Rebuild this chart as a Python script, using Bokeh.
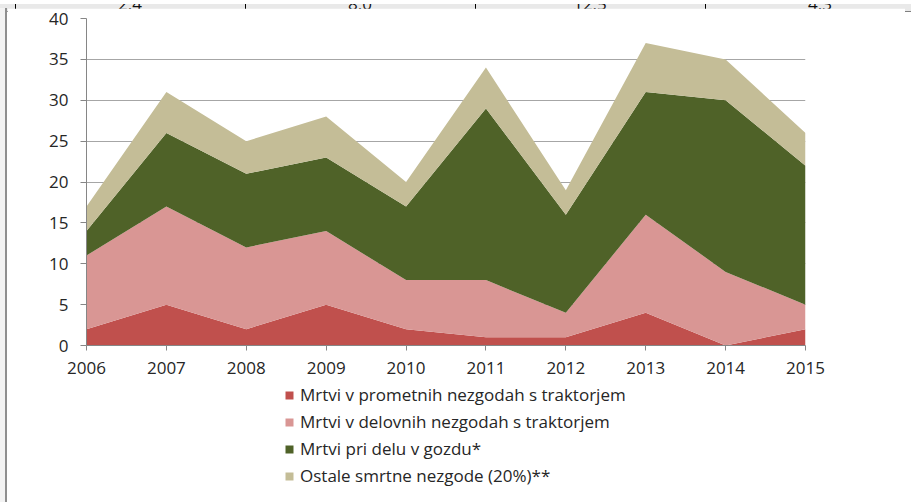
from bokeh.plotting import figure
from bokeh.models import ColumnDataSource, Range1d, FixedTicker, Legend, LegendItem, Div
from bokeh.layouts import column, row
from bokeh.embed import file_html
from bokeh.resources import INLINE

years = [2006, 2007, 2008, 2009, 2010, 2011, 2012, 2013, 2014, 2015]
prometne = [2, 5, 2, 5, 2, 1, 1, 4, 0, 2]
delovne = [9, 12, 10, 9, 6, 7, 3, 12, 9, 3]
gozd = [3, 9, 9, 9, 9, 21, 12, 15, 21, 17]
ostale = [3, 5, 4, 5, 3, 5, 3, 6, 5, 4]

series_names = [
    "Mrtvi v prometnih nezgodah s traktorjem",
    "Mrtvi v delovnih nezgodah s traktorjem",
    "Mrtvi pri delu v gozdu*",
    "Ostale smrtne nezgode (20%)**",
]
colors = ["#C0504D", "#D99694", "#4F6228", "#C4BD97"]
y_ticks = [0, 5, 10, 15, 20, 25, 30, 35, 40]

# partially visible spreadsheet row above the chart
header_values = ["2.4", "8.0", "12.5", "4.3"]

FONT = "Open Sans"
TXT = "#262626"
AX = "#868686"

source = ColumnDataSource(dict(year=years, s1=prometne, s2=delovne, s3=gozd, s4=ostale))
stack_cols = ["s1", "s2", "s3", "s4"]

# ---- spreadsheet strip (context above the chart) ----
cells = []
cell_w = 230
for i, v in enumerate(header_values):
    left = 15 + i * cell_w
    cells.append(f'<span style="position:absolute;left:{left}px;top:0;width:{cell_w}px;height:8px;'
                 f'border-left:1px solid #000;box-sizing:border-box;"></span>')
    cells.append(f'<span style="position:absolute;left:{left}px;width:{cell_w}px;top:-9px;'
                 f'line-height:17px;text-align:center;font-family:\'Open Sans\';font-size:17px;color:#111;">{v}</span>')
strip_html = ('<div style="position:relative;width:911px;height:8px;background:#E9E9E9;'
              'border-bottom:1px solid #7F7F7F;box-sizing:border-box;overflow:hidden;">'
              + "".join(cells) + '</div>')
strip = Div(text=strip_html, width=911, height=8, margin=(0, 0, 0, 0))

side = Div(text='<div style="width:7px;height:494px;background:#F3F3F3;'
                'border-right:2px solid #8F8F8F;box-sizing:border-box;"></div>',
           width=7, height=494, margin=(0, 0, 0, 0))

# ---- main chart ----
p = figure(width=898, height=375, output_backend="svg", toolbar_location=None,
           x_range=Range1d(2006, 2015), y_range=Range1d(0, 40),
           min_border_left=79, min_border_right=100, min_border_top=10, min_border_bottom=38)
p.outline_line_color = None
p.background_fill_color = "white"
p.border_fill_color = "white"

p.varea_stack(stackers=stack_cols, x="year", color=colors, source=source)

p.xaxis.ticker = FixedTicker(ticks=years)
p.yaxis.ticker = FixedTicker(ticks=y_ticks)
for ax in (p.xaxis, p.yaxis):
    ax.axis_line_color = AX
    ax.major_tick_line_color = AX
    ax.minor_tick_line_color = None
    ax.major_tick_in = 0
    ax.major_label_text_font = FONT
    ax.major_label_text_font_size = "17px"
    ax.major_label_text_color = TXT
p.xaxis.major_tick_out = 5
p.xaxis.major_label_standoff = 11
p.yaxis.major_tick_out = 6
p.yaxis.major_label_standoff = 12

p.xgrid.grid_line_color = None
p.ygrid.ticker = FixedTicker(ticks=y_ticks)
p.ygrid.grid_line_color = "#A6A6A6"
p.ygrid.grid_line_width = 1

# ---- legend panel ----
q = figure(width=898, height=117, output_backend="svg", toolbar_location=None,
           x_range=Range1d(0, 1), y_range=Range1d(0, 1),
           x_axis_location=None, y_axis_location=None,
           min_border=0)
q.outline_line_color = None
q.grid.visible = False
q.background_fill_color = "white"
q.border_fill_color = "white"
rs = q.varea_stack(stackers=stack_cols, x="year", color=colors, source=source)

lg = Legend(items=[LegendItem(label=n, renderers=[r]) for n, r in zip(series_names, rs)])
lg.location = (198, 13)
lg.padding = 0
lg.margin = 0
lg.border_line_color = None
lg.background_fill_alpha = 0
lg.glyph_width = 10
lg.glyph_height = 10
lg.label_height = 10
lg.spacing = 4
lg.label_standoff = 6
lg.label_text_font = FONT
lg.label_text_font_size = "17px"
lg.label_text_color = TXT
q.add_layout(lg, "center")

layout = column(strip, row(side, column(p, q, spacing=0), spacing=0), spacing=0)
open("out.html", "w").write(file_html(layout, INLINE))
